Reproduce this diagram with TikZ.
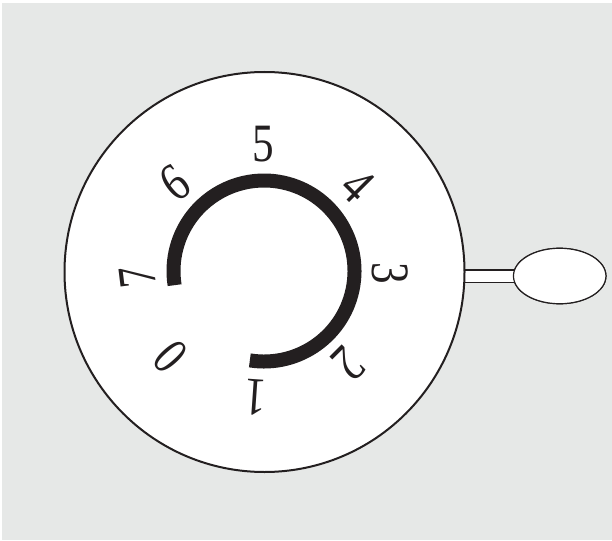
\documentclass[tikz,border=0pt]{standalone}
\usepackage{fontspec}
\setmainfont{Liberation Serif}
\usetikzlibrary{shapes.geometric}
\definecolor{panel}{HTML}{E6E8E7}
\definecolor{ink}{HTML}{231F20}
\tikzset{
  x=1pt,y=-1pt,
  dial/.style={circle,draw=ink,fill=white,line width=2pt,minimum size=400pt,inner sep=0pt},
  knob/.style={ellipse,draw=ink,fill=white,line width=1.2pt,minimum width=92.5pt,minimum height=55.5pt,inner sep=0pt},
  stemline/.style={draw=ink,line width=1.2pt},
  digit/.style={font=\fontsize{54}{54}\selectfont,inner sep=0pt,text=ink,transform shape},
}
\begin{document}
\begin{tikzpicture}
\useasboundingbox (0,0) rectangle (612,540);
\fill[white] (0,0) rectangle (612,540);
\fill[panel] (2,3) rectangle (612,540);
\node[knob] (knob) at (559.7,276) {};
\coordinate (sa) at (464,270);
\coordinate (sb) at (464,282.3);
\coordinate (ka) at (516,270);
\coordinate (kb) at (516,282.3);
\fill[white] (sa) rectangle (kb);
\draw[stemline] (sa) -- (ka);
\draw[stemline] (sb) -- (kb);
\node[knob] at (knob) {};
\node[dial] (dial) at (264.5,272) {};
\draw[ink,line width=14pt] (264,271) ++(99:90.5) arc[start angle=99,end angle=-189,radius=90.5];
\node[digit,rotate=0,xscale=.8] (d5) at (263.3,144) {5};
\node[digit,rotate=-45,xscale=.8] (d4) at (357.5,185.5) {4};
\node[digit,rotate=-90,xscale=.8] (d3) at (390.5,273.5) {3};
\node[digit,rotate=-135,xscale=.8] (d2) at (348,363.5) {2};
\node[digit,rotate=176,xscale=.8] (d1) at (255,398) {1};
\node[digit,rotate=131.6,xscale=.75] (d0) at (171,357) {0};
\node[digit,rotate=97,xscale=.8] (d7) at (137.5,276.5) {7};
\node[digit,rotate=36,xscale=.8] (d6) at (175,183) {6};
\end{tikzpicture}
\end{document}
